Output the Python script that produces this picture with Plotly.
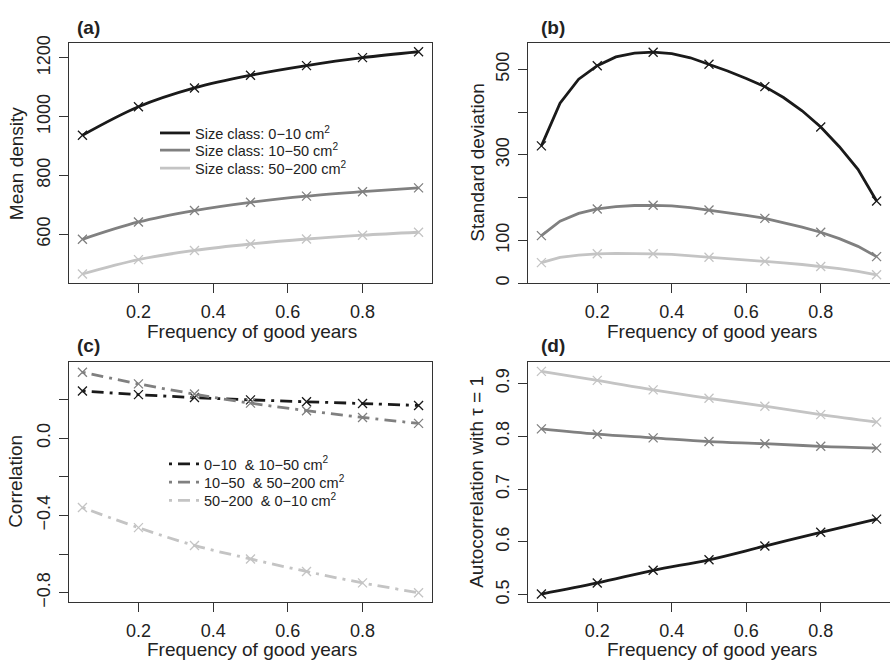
import plotly.graph_objects as go

W, H = 890, 668

# ---------------- data ----------------
freq = [0.05, 0.2, 0.35, 0.5, 0.65, 0.8, 0.95]
freq_fine = [0.05, 0.1, 0.15, 0.2, 0.25, 0.3, 0.35, 0.4, 0.45, 0.5,
             0.55, 0.6, 0.65, 0.7, 0.75, 0.8, 0.85, 0.9, 0.95]

# (a) mean density
mean_small = [937, 1034, 1098, 1141, 1174, 1201, 1221]
mean_mid = [583, 642, 681, 709, 730, 745, 758]
mean_large = [465, 514, 545, 567, 584, 597, 607]

# (b) standard deviation (fine grid for lines)
sd_small_fine = [321, 421, 477, 508.5, 529, 538, 540, 536.5, 527, 512,
                 496, 478.5, 459.5, 434, 403, 365, 319, 266, 192]
sd_mid_fine = [111, 145, 163, 173.5, 179, 181.5, 182, 180.5, 176.5, 171,
               165, 158.5, 151.5, 142, 131, 119, 104, 86, 62]
sd_large_fine = [48, 60, 65.5, 68.5, 69.5, 69.5, 68.5, 67, 64, 60.5,
                 57.5, 54, 51, 47.5, 43.5, 39, 34, 27.5, 19.5]
sd_small = [321, 508.5, 540, 512, 459.5, 365, 192]
sd_mid = [111, 173.5, 182, 171, 151.5, 119, 62]
sd_large = [48, 68.5, 68.5, 60.5, 51, 39, 19.5]

# (c) correlation
cor_s_m = [0.245, 0.226, 0.211, 0.199, 0.189, 0.180, 0.170]
cor_m_l = [0.342, 0.282, 0.229, 0.182, 0.143, 0.108, 0.077]
cor_l_s = [-0.359, -0.463, -0.555, -0.625, -0.690, -0.749, -0.800]

# (d) autocorrelation
ac_small = [0.501, 0.522, 0.546, 0.566, 0.592, 0.618, 0.643]
ac_mid = [0.814, 0.804, 0.797, 0.790, 0.786, 0.781, 0.7775]
ac_large = [0.923, 0.906, 0.888, 0.872, 0.857, 0.841, 0.827]

legend_a = ["Size class: 0\u221210 cm<sup>2</sup>",
            "Size class: 10\u221250 cm<sup>2</sup>",
            "Size class: 50\u2212200 cm<sup>2</sup>"]
legend_c = ["0\u221210  & 10\u221250 cm<sup>2</sup>",
            "10\u221250  & 50\u2212200 cm<sup>2</sup>",
            "50\u2212200  & 0\u221210 cm<sup>2</sup>"]

x_ticks = [0.2, 0.4, 0.6, 0.8]
ticks_a = [600, 800, 1000, 1200]
ticks_b = [0, 100, 200, 300, 400, 500]
ticklab_b = ["0", "100", "", "300", "", "500"]
ticks_c = [-0.8, -0.6, -0.4, -0.2, 0.0, 0.2]
ticklab_c = ["\u22120.8", "", "\u22120.4", "", "0.0", ""]
ticks_d = [0.5, 0.6, 0.7, 0.8, 0.9]

# ---------------- styling ----------------
BLACK = "#1a1a1a"
MID = "#808080"
LIGHT = "#c4c4c4"
colors = [BLACK, MID, LIGHT]
LW = 2.8
DOTDASH = "3px,6px,12px,6px"
FONT = "Liberation Sans, Arial, Helvetica, sans-serif"
TXT = "#222222"

fig = go.Figure()


def add_series(xl, yl, xm, ym, color, xa, ya, shape, dash="solid",
               name=None, legend=None):
    fig.add_trace(go.Scatter(
        x=xl, y=yl, mode="lines", xaxis=xa, yaxis=ya,
        line=dict(color=color, width=LW, dash=dash, shape=shape),
        name=name if name else "", showlegend=name is not None,
        legend=legend if legend else "legend", hoverinfo="skip"))
    fig.add_trace(go.Scatter(
        x=xm, y=ym, mode="markers", xaxis=xa, yaxis=ya,
        marker=dict(symbol="x-thin", size=9,
                    line=dict(color=color, width=1.3)),
        showlegend=False, hoverinfo="skip"))


leg_ids_a = ["legend", "legend2", "legend3"]
leg_ids_c = ["legend4", "legend5", "legend6"]

for ys, c, nm, lg in zip([mean_small, mean_mid, mean_large], colors,
                         legend_a, leg_ids_a):
    add_series(freq, ys, freq, ys, c, "x", "y", "spline", name=nm,
               legend=lg)

for yl, ym, c in zip([sd_small_fine, sd_mid_fine, sd_large_fine],
                     [sd_small, sd_mid, sd_large], colors):
    add_series(freq_fine, yl, freq, ym, c, "x2", "y2", "linear")

for ys, c, nm, lg in zip([cor_s_m, cor_m_l, cor_l_s], colors, legend_c,
                         leg_ids_c):
    add_series(freq, ys, freq, ys, c, "x3", "y3", "spline", dash=DOTDASH,
               name=nm, legend=lg)

for ys, c in zip([ac_small, ac_mid, ac_large], colors):
    add_series(freq, ys, freq, ys, c, "x4", "y4", "spline")


def px_x(p):
    return p / W


def px_y(p):
    return 1 - p / H


common_axis = dict(showgrid=False, zeroline=False, showline=True,
                   linecolor="#333333", linewidth=1.3, ticks="outside",
                   ticklen=9, tickwidth=1.2, tickcolor="#333333",
                   tickfont=dict(family=FONT, size=18, color=TXT))

xrange_ = [0.014, 0.986]
dom_left = [px_x(69), px_x(432)]
dom_right = [px_x(528), 1.0]
dom_top = [px_y(281), px_y(36)]
dom_bot = [px_y(606.7), px_y(362)]

XSO = 3
YSO = 2

layout = dict(
    width=W, height=H, margin=dict(l=0, r=0, t=0, b=0),
    paper_bgcolor="white", plot_bgcolor="white",
    font=dict(family=FONT, color=TXT),
    xaxis=dict(common_axis, domain=dom_left, range=xrange_, tickvals=x_ticks,
               mirror=True, anchor="y", ticklabelstandoff=XSO),
    yaxis=dict(common_axis, domain=dom_top, range=[434, 1250],
               tickvals=ticks_a, tickangle=-90, mirror=True, anchor="x",
               ticklabelstandoff=YSO),
    xaxis2=dict(common_axis, domain=dom_right, range=xrange_,
                tickvals=x_ticks, mirror=True, anchor="y2",
                ticklabelstandoff=XSO),
    yaxis2=dict(common_axis, domain=dom_top, range=[0, 561],
                tickvals=ticks_b, ticktext=ticklab_b, tickangle=-90,
                mirror=False, anchor="x2", ticklabelstandoff=YSO),
    xaxis3=dict(common_axis, domain=dom_left, range=xrange_,
                tickvals=x_ticks, mirror=True, anchor="y3",
                ticklabelstandoff=XSO),
    yaxis3=dict(common_axis, domain=dom_bot, range=[-0.848, 0.393],
                tickvals=ticks_c, ticktext=ticklab_c, tickangle=-90,
                mirror=True, anchor="x3", ticklabelstandoff=YSO),
    xaxis4=dict(common_axis, domain=dom_right, range=xrange_,
                tickvals=x_ticks, mirror=True, anchor="y4",
                ticklabelstandoff=XSO),
    yaxis4=dict(common_axis, domain=dom_bot, range=[0.486, 0.940],
                tickvals=ticks_d, tickangle=-90, mirror=False, anchor="x4",
                ticklabelstandoff=YSO),
)

leg_rows_a = [127.7, 145.3, 163.7]
leg_rows_c = [465.7, 484.3, 503.0]
for lg, yy in zip(leg_ids_a, leg_rows_a):
    layout[lg] = dict(x=px_x(155), y=px_y(yy), xanchor="left",
                      yanchor="middle", bgcolor="rgba(0,0,0,0)",
                      font=dict(family=FONT, size=14.5, color=TXT))
for lg, yy in zip(leg_ids_c, leg_rows_c):
    layout[lg] = dict(x=px_x(164), y=px_y(yy), xanchor="left",
                      yanchor="middle", bgcolor="rgba(0,0,0,0)",
                      font=dict(family=FONT, size=14.5, color=TXT))

fig.update_layout(**layout)

annots = [
    ("(a)", 88, 20, 0, True), ("(b)", 553, 20, 0, True),
    ("(c)", 88, 345, 0, True), ("(d)", 553, 345, 0, True),
    ("Frequency of good years", 252, 330, 0, False),
    ("Frequency of good years", 712, 330, 0, False),
    ("Frequency of good years", 252, 655, 0, False),
    ("Frequency of good years", 712, 655, 0, False),
    ("Mean density", 16, 158.5, -90, False),
    ("Standard deviation", 477.5, 158.5, -90, False),
    ("Correlation", 16, 484, -90, False),
    ("Autocorrelation with \u03c4 = 1", 477, 484, -90, False),
]
for text, xp, yp, ang, bold in annots:
    fig.add_annotation(
        text=f"<b>{text}</b>" if bold else text,
        x=px_x(xp), y=px_y(yp), xref="paper", yref="paper",
        xanchor="center", yanchor="middle", showarrow=False, textangle=ang,
        font=dict(family=FONT, size=19, color=TXT))

fig.write_html(
    "out.html",
    config={"displayModeBar": False},
    post_script="document.body.style.margin='0';"
                "document.body.style.overflow='hidden';")
